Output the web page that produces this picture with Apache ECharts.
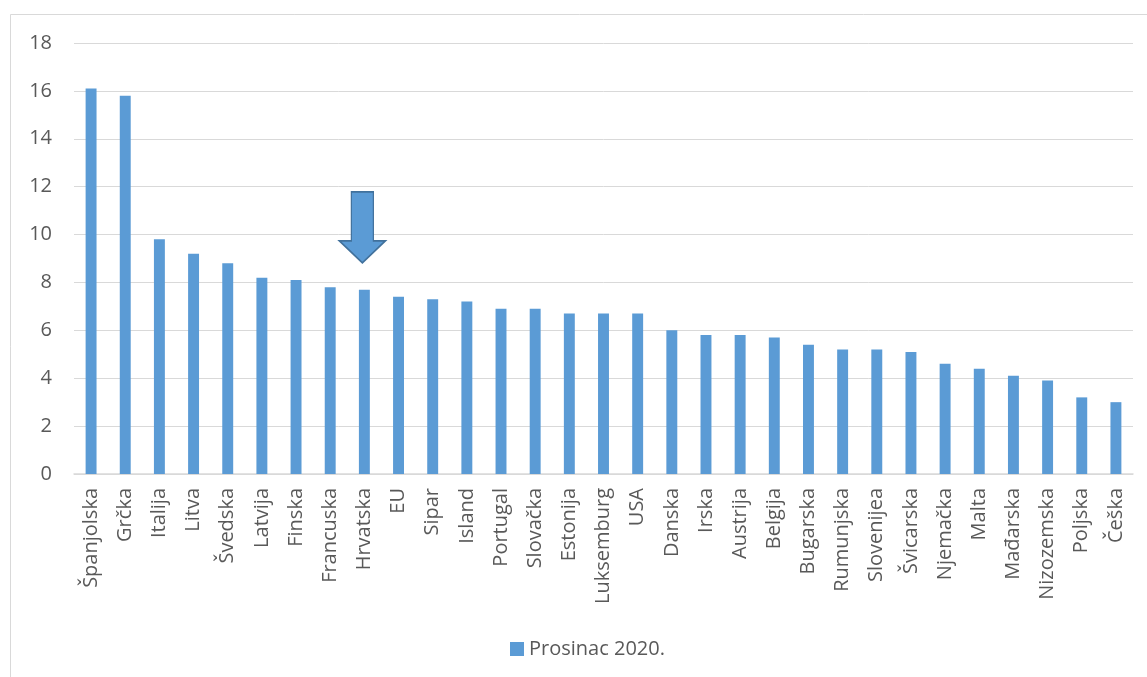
<!DOCTYPE html>
<html>
<head>
<meta charset="utf-8">
<script src="https://cdn.jsdelivr.net/npm/echarts@6/dist/echarts.min.js"></script>
<style>
html,body{margin:0;padding:0;background:#fff;}
#c{width:1147px;height:677px;}
</style>
</head>
<body>
<div id="c"></div>
<script>
const categories = ["Španjolska","Grčka","Italija","Litva","Švedska","Latvija","Finska","Francuska","Hrvatska","EU","Sipar","Island","Portugal","Slovačka","Estonija","Luksemburg","USA","Danska","Irska","Austrija","Belgija","Bugarska","Rumunjska","Slovenijea","Švicarska","Njemačka","Malta","Mađarska","Nizozemska","Poljska","Češka"];
const values = [16.1,15.8,9.8,9.2,8.8,8.2,8.1,7.8,7.7,7.4,7.3,7.2,6.9,6.9,6.7,6.7,6.7,6.0,5.8,5.8,5.7,5.4,5.2,5.2,5.1,4.6,4.4,4.1,3.9,3.2,3.0];
const seriesName = "Prosinac 2020.";
const yTicks = {min:0, max:18, interval:2};
const highlighted = "Hrvatska";
const arrowValue = 10.3;

const chart = echarts.init(document.getElementById('c'), null, {renderer:'canvas'});
const font = "Open Sans";
chart.setOption({
  animation:false,
  backgroundColor:'#fff',
  graphic:[{type:'rect', shape:{x:10.5,y:14.5,width:1200,height:700}, style:{fill:'none', stroke:'#d9d9d9', lineWidth:1}, silent:true, z:-1}],
  grid:{left:74, right:14, top:43, bottom:203, containLabel:false},
  legend:{
    top:634, left:505, itemWidth:14, itemHeight:14, icon:'rect', itemGap:6,
    textStyle:{color:'#595959', fontSize:20, fontFamily:font},
    data:[seriesName]
  },
  xAxis:{
    type:'category', data:categories,
    axisLine:{lineStyle:{color:'#d9d9d9', width:1.5}},
    axisTick:{show:false},
    axisLabel:{rotate:90, color:'#595959', fontSize:20, fontFamily:font, interval:0, margin:14}
  },
  yAxis:{
    type:'value', min:yTicks.min, max:yTicks.max, interval:yTicks.interval,
    axisLine:{show:false}, axisTick:{show:false},
    splitLine:{lineStyle:{color:'#d9d9d9', width:1}},
    axisLabel:{color:'#595959', fontSize:20, fontFamily:font, margin:22}
  },
  series:[{
    name:seriesName, type:'bar', data:values, barWidth:'32%',
    itemStyle:{color:'#5b9bd5'},
    markPoint:{
      silent:true,
      data:[{coord:[highlighted, arrowValue]}],
      symbol:'path://M12,0 L34,0 L34,49 L46,49 L23,71 L0,49 L12,49 Z',
      symbolSize:[46,71],
      symbolOffset:[-2,0],
      itemStyle:{color:'#5b9bd5', borderColor:'#41719c', borderWidth:1.5},
      label:{show:false}
    }
  }]
});
</script>
</body>
</html>
